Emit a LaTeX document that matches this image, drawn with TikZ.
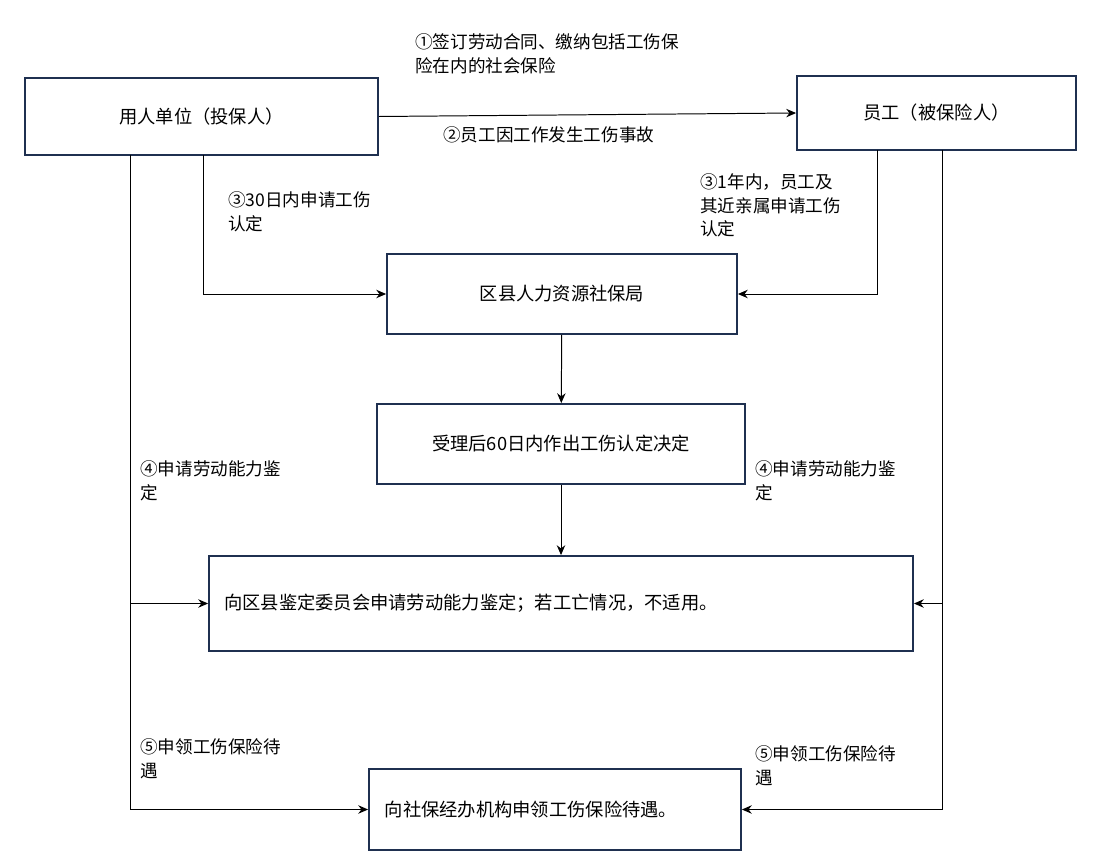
\documentclass[tikz,border=0pt]{standalone}
\usepackage{fontspec}
\setmainfont{Noto Sans CJK SC}
\usetikzlibrary{arrows.meta, positioning}
\definecolor{boxblue}{HTML}{1F3050}

\tikzset{
	box/.style={draw=boxblue, line width=1.3pt, inner sep=0pt, font=\fontsize{13}{16}\selectfont},
	lbl/.style={anchor=north west, inner sep=0pt, align=left, font=\fontsize{12.5}{17}\selectfont},
	flow/.style={-{Stealth[length=7pt,width=6pt]}, line width=0.7pt}
}

\begin{document}
\begin{tikzpicture}[x=0.025cm, y=-0.025cm]
	\useasboundingbox (0,0) rectangle (1105,860);
	\node[box, minimum width=353*0.025cm, minimum height=77*0.025cm] (unit) at (201.5,116.5) {用人单位（投保人）};
	\node[box, minimum width=279*0.025cm, minimum height=74*0.025cm] (staff) at (936.5,113) {员工（被保险人）};
	\node[box, minimum width=350*0.025cm, minimum height=80*0.025cm] (bureau) at (562,294) {区县人力资源社保局};
	\node[box, minimum width=368*0.025cm, minimum height=80*0.025cm] (decide) at (561,444) {受理后60日内作出工伤认定决定};
	\node[box, minimum width=704*0.025cm, minimum height=95*0.025cm] (assess) at (561,603.5) {\hspace*{-4.5cm}向区县鉴定委员会申请劳动能力鉴定；若工亡情况，不适用。};
	\node[box, minimum width=372*0.025cm, minimum height=81*0.025cm] (claim) at (555,809.5) {\hspace*{-1.2cm}向社保经办机构申领工伤保险待遇。};

	% labels
	\node[lbl] (l1) at (415,33) {①签订劳动合同、缴纳包括工伤保\\险在内的社会保险};
	\node[lbl] (l2) at (443,126) {②员工因工作发生工伤事故};
	\node[lbl] (l3a) at (228,191) {③30日内申请工伤\\认定};
	\node[lbl] (l3b) at (700,173) {③1年内，员工及\\其近亲属申请工伤\\认定};
	\node[lbl] (l4a) at (140,460) {④申请劳动能力鉴\\定};
	\node[lbl] (l4b) at (755,460) {④申请劳动能力鉴\\定};
	\node[lbl] (l5a) at (140,738) {⑤申领工伤保险待\\遇};
	\node[lbl] (l5b) at (755,745) {⑤申领工伤保险待\\遇};

	\coordinate (uleft) at (130,155);
	\coordinate (umid) at (203,155);
	\coordinate (smid) at (877,150);
	\coordinate (sright) at (942,150);

	\draw[flow] (unit.east) -- (staff.west);
	\draw[flow] (umid) |- (bureau.west);
	\draw[flow] (smid) |- (bureau.east);
	\draw[flow] (bureau) -- (decide);
	\draw[flow] (decide) -- (assess);
	\draw[flow] (uleft) |- (claim.west);
	\draw[flow] (uleft |- assess.west) -- (assess.west);
	\draw[flow] (sright) |- (claim.east);
	\draw[flow] (sright |- assess.east) -- (assess.east);
\end{tikzpicture}
\end{document}
